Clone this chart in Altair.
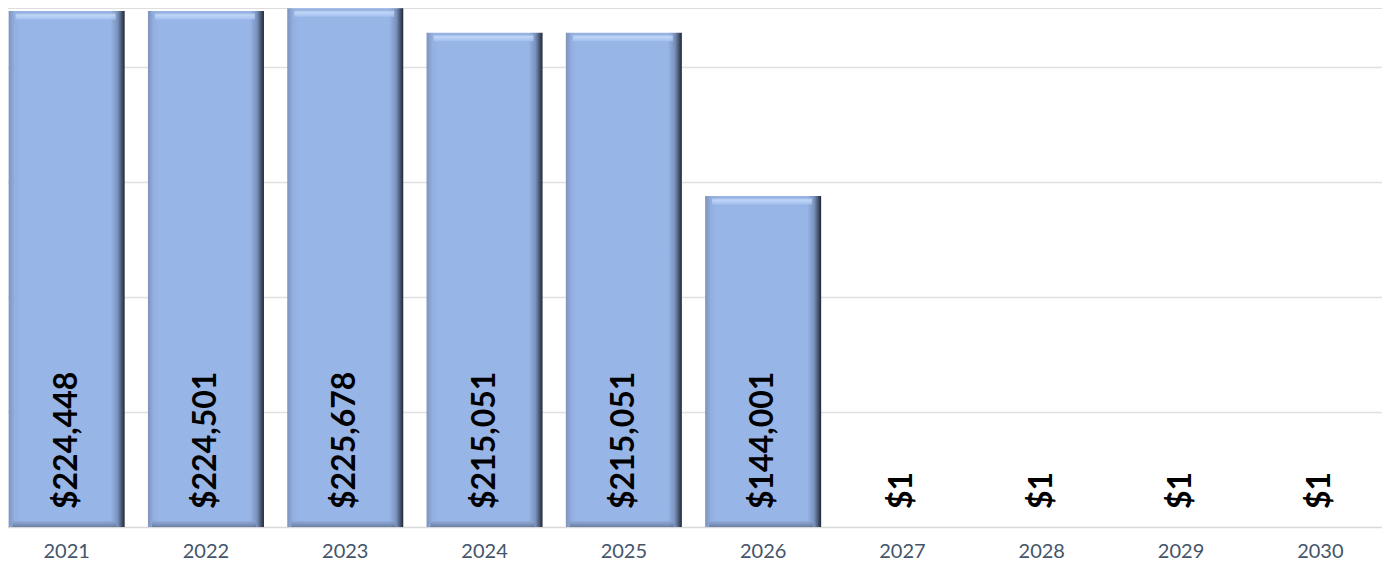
import altair as alt
import pandas as pd

years = ["2021", "2022", "2023", "2024", "2025", "2026", "2027", "2028", "2029", "2030"]
values = [224448, 224501, 225678, 215051, 215051, 144001, 1, 1, 1, 1]

df = pd.DataFrame({"year": years, "value": values})

x = alt.X("year:N", sort=years, title=None,
          axis=alt.Axis(labelAngle=0, labelFont="Lato", labelFontSize=20,
                        labelColor="#44546A", labelPadding=14, ticks=False,
                        domain=True, domainColor="#D9D9D9", domainWidth=1.5),
          scale=alt.Scale(paddingInner=0.17, paddingOuter=0.085))
y = alt.Y("value:Q", title=None,
          scale=alt.Scale(domain=[0, 225800], nice=False, zero=True),
          axis=alt.Axis(values=[50000, 100000, 150000, 200000], labels=False, ticks=False,
                        domain=False, grid=True, gridColor="#E0E0E0", gridWidth=1.5))

body_grad = alt.Gradient(
    gradient="linear", x1=0, x2=1, y1=0, y2=0,
    stops=[
        alt.GradientStop(color="#7d93bd", offset=0.0),
        alt.GradientStop(color="#93afe0", offset=0.05),
        alt.GradientStop(color="#98b5e8", offset=0.1),
        alt.GradientStop(color="#98b5e8", offset=0.88),
        alt.GradientStop(color="#7a91bb", offset=0.94),
        alt.GradientStop(color="#3e4b63", offset=0.98),
        alt.GradientStop(color="#1f2633", offset=1.0),
    ])

top_grad = alt.Gradient(
    gradient="linear", x1=0, x2=0, y1=0, y2=1,
    stops=[
        alt.GradientStop(color="#8fa8d4", offset=0.0),
        alt.GradientStop(color="#d2e4ff", offset=0.35),
        alt.GradientStop(color="#a9c4f2", offset=1.0),
    ])

bottom_grad = alt.Gradient(
    gradient="linear", x1=0, x2=0, y1=0, y2=1,
    stops=[
        alt.GradientStop(color="#8ea7d4", offset=0.0),
        alt.GradientStop(color="#6f84aa", offset=0.6),
        alt.GradientStop(color="#56657f", offset=1.0),
    ])

base = alt.Chart(df)

bars = base.mark_bar(size=116, color=body_grad).encode(x=x, y=y)

top = base.transform_filter("datum.value > 100").mark_tick(
    orient="horizontal", size=100, thickness=7, color=top_grad, yOffset=5, xOffset=-1
).encode(x=x, y=y)

bottom = base.transform_filter("datum.value > 100").mark_tick(
    orient="horizontal", size=104, thickness=6, color=bottom_grad, yOffset=-3, xOffset=-2
).encode(x=x, y=alt.datum(0))

labels = base.mark_text(
    angle=270, align="left", baseline="middle", dx=18, font="Lato",
    fontWeight="bold", fontSize=32, color="#000000"
).encode(x=x, y=alt.datum(0), text=alt.Text("value:Q", format="$,"))

chart = alt.layer(bars, top, bottom, labels).properties(
    width=1393, height=519,
    autosize=alt.AutoSizeParams(type="none"),
    padding={"left": -11, "top": 0, "right": -8, "bottom": 38},
).configure_view(stroke=None).configure(background="#ffffff")

chart.save("out.html", embed_options={"renderer": "svg", "actions": False})
